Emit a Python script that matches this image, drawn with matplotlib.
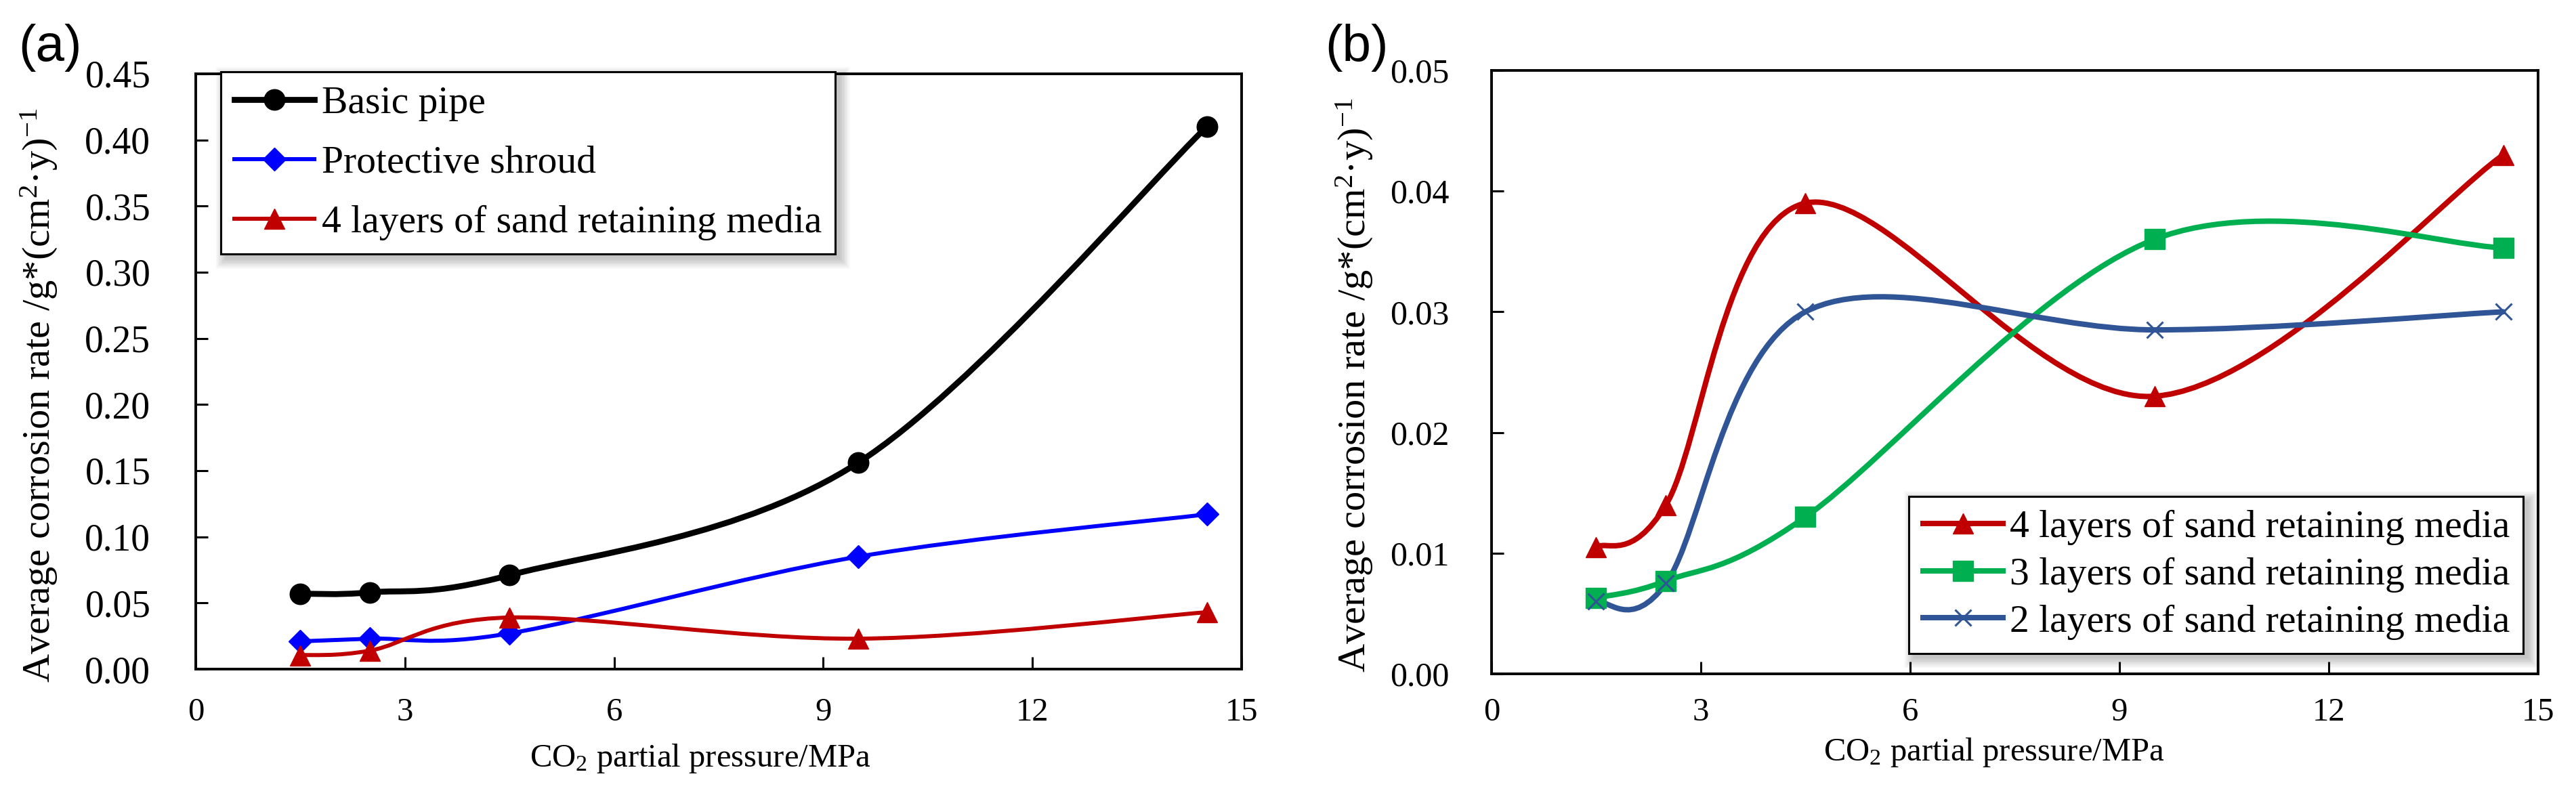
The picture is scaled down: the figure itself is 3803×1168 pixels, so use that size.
"""Average corrosion rate vs CO2 partial pressure, two panels."""

import numpy as np
import matplotlib
matplotlib.use("Agg")
import matplotlib.pyplot as plt
from matplotlib.path import Path
from matplotlib.patches import PathPatch, Rectangle
from matplotlib.lines import Line2D
from matplotlib.ticker import FormatStrFormatter
from matplotlib.transforms import IdentityTransform

plt.rcParams['font.family'] = ['Liberation Serif', 'DejaVu Serif']
plt.rcParams['mathtext.fontset'] = 'custom'
plt.rcParams['mathtext.rm'] = 'Liberation Serif'
plt.rcParams['mathtext.it'] = 'Liberation Serif:italic'
plt.rcParams['mathtext.bf'] = 'Liberation Serif:bold'

# data
pressure = [1.5, 2.5, 4.5, 9.5, 14.5]
basic_pipe = [0.057, 0.058, 0.071, 0.156, 0.410]
shroud = [0.021, 0.023, 0.027, 0.085, 0.117]
media_4 = [0.0105, 0.014, 0.039, 0.023, 0.043]
media_3 = [0.0063, 0.0077, 0.013, 0.036, 0.0353]
media_2 = [0.0060, 0.0075, 0.030, 0.0285, 0.030]

x_ticks = [0, 3, 6, 9, 12, 15]
y_ticks_a = [0.0, 0.05, 0.10, 0.15, 0.20, 0.25, 0.30, 0.35, 0.40, 0.45]
y_ticks_b = [0.0, 0.01, 0.02, 0.03, 0.04, 0.05]

XLABEL = r'CO$_{\mathrm{2}}$ partial pressure/MPa'
YLABEL = r'Average corrosion rate /g*(cm$^{\mathrm{2}}$·y)$^{\mathrm{-1}}$'

RED = '#C00000'
GREEN = '#00B050'
NAVY = '#2F5597'


def smooth_path(x, y):
    """Excel-like smoothed line: cubic Bezier segments through the points."""
    pts = np.column_stack([x, y]).astype(float)
    n = len(pts)
    verts = [pts[0]]
    codes = [Path.MOVETO]
    for i in range(n - 1):
        p0 = pts[max(i - 1, 0)]
        p1, p2 = pts[i], pts[i + 1]
        p3 = pts[min(i + 2, n - 1)]
        verts += [p1 + (p2 - p0) / 6, p2 - (p3 - p1) / 6, p2]
        codes += [Path.CURVE4] * 3
    return Path(verts, codes)


def draw_series(ax, y, label, color, lw, marker, ms, **mk):
    ax.add_patch(PathPatch(smooth_path(pressure, y), fill=False, edgecolor=color,
                           lw=lw, zorder=3, capstyle='round', joinstyle='round'))
    ax.plot(pressure, y, ls='none', marker=marker, ms=ms, color=color,
            zorder=4, clip_on=False, **mk)
    return Line2D([], [], color=color, lw=lw, marker=marker, ms=ms, label=label, **mk)


def style_axes(ax, yticks, ylab_size, xpad, ypad):
    ax.set_xlim(0, 15)
    ax.set_ylim(yticks[0], yticks[-1])
    ax.set_xticks(x_ticks)
    ax.set_yticks(yticks)
    ax.yaxis.set_major_formatter(FormatStrFormatter('%.2f'))
    ax.tick_params(direction='in', length=13, width=2.2, top=False, right=False)
    ax.tick_params(axis='x', labelsize=35, pad=xpad)
    ax.tick_params(axis='y', labelsize=ylab_size, pad=ypad)
    for s in ax.spines.values():
        s.set_linewidth(2.8)


def make_legend(ax, handles, **kw):
    leg = ax.legend(handles=handles, fontsize=41.5, frameon=True, fancybox=False,
                    edgecolor='black', framealpha=1, borderaxespad=0,
                    handlelength=2.05, handletextpad=0.18, borderpad=0.35, **kw)
    leg.get_frame().set_linewidth(2.2)
    leg.set_zorder(6)
    return leg


def soft_shadow(fig, ax, leg):
    fig.canvas.draw()
    bb = leg.get_window_extent()
    for k in range(10):
        g = 1.6 * k
        ax.add_patch(Rectangle((bb.x0 + 7 - g, bb.y0 - 7 - g), bb.width + 2 * g,
                               bb.height + 2 * g, transform=IdentityTransform(),
                               facecolor='black', edgecolor='none', alpha=0.022,
                               zorder=5.5, clip_on=False))


fig = plt.figure(figsize=(38.03, 11.68), dpi=100)
ax_a = fig.add_axes([0.0760, 0.1541, 0.4060, 0.7526])
ax_b = fig.add_axes([0.5790, 0.1481, 0.4063, 0.7629])

# panel (a)
h_a = [
    draw_series(ax_a, basic_pipe, 'Basic pipe', 'black', 6.3, 'o', 22),
    draw_series(ax_a, shroud, 'Protective shroud', '#0000FF', 4.3, 'D', 17),
    draw_series(ax_a, media_4, '4 layers of sand retaining media', RED, 4.3, '^', 21),
]
style_axes(ax_a, y_ticks_a, 40, 30, 48)
ax_a.set_xlabel(XLABEL, fontsize=35, va='center')
ax_a.xaxis.set_label_coords(0.482, -0.150)
ax_a.set_ylabel(YLABEL, fontsize=42, va='center')
ax_a.yaxis.set_label_coords(-0.150, 0.46)
leg_a = make_legend(ax_a, h_a, loc='upper left', bbox_to_anchor=(0.024, 1.003),
                    labelspacing=0.62)

# panel (b)
h_b = [
    draw_series(ax_b, media_4, '4 layers of sand retaining media', RED, 5.8, '^', 21),
    draw_series(ax_b, media_3, '3 layers of sand retaining media', GREEN, 5.8, 's', 21),
    draw_series(ax_b, media_2, '2 layers of sand retaining media', NAVY, 5.8, 'x', 17,
                mew=2.2),
]
style_axes(ax_b, y_ticks_b, 36, 25, 45)
ax_b.set_xlabel(XLABEL, fontsize=35, va='center')
ax_b.xaxis.set_label_coords(0.48, -0.130)
ax_b.set_ylabel(YLABEL, fontsize=42, va='center')
ax_b.yaxis.set_label_coords(-0.1307, 0.478)
leg_b = make_legend(ax_b, h_b, loc='lower right', bbox_to_anchor=(0.986, 0.034),
                    labelspacing=0.3)

fig.text(27 / 3803, 1 - 90 / 1168, '(a)', family='Liberation Sans', fontsize=55,
         ha='left', va='baseline')
fig.text(1956 / 3803, 1 - 90 / 1168, '(b)', family='Liberation Sans', fontsize=55,
         ha='left', va='baseline')

soft_shadow(fig, ax_a, leg_a)
soft_shadow(fig, ax_b, leg_b)

fig.savefig('out.png', dpi=100)
plt.close(fig)
